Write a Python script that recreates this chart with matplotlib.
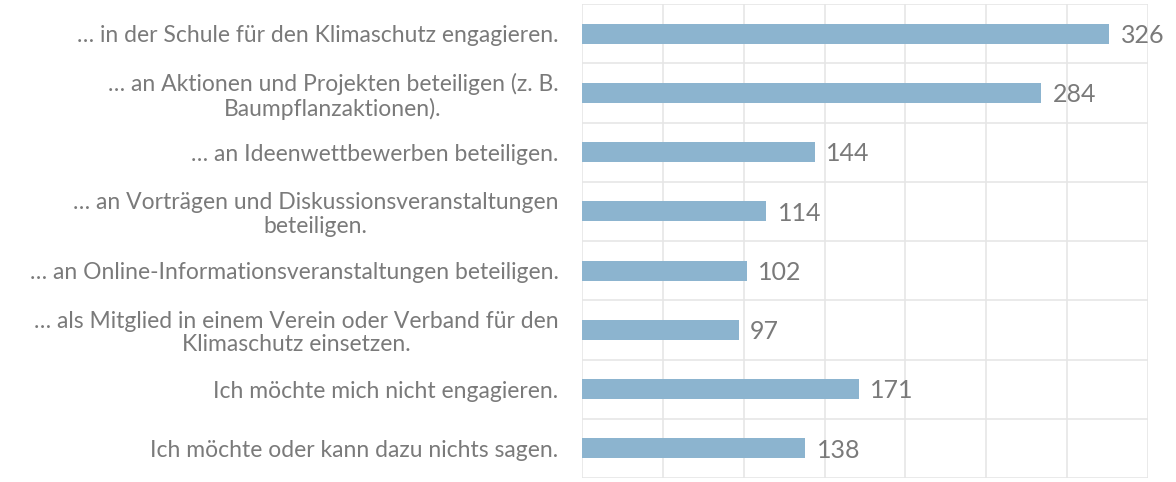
import matplotlib
matplotlib.use("Agg")
import matplotlib.pyplot as plt
import numpy as np

categories = [
    "… in der Schule für den Klimaschutz engagieren.",
    "… an Aktionen und Projekten beteiligen (z. B.\nBaumpflanzaktionen).",
    "… an Ideenwettbewerben beteiligen.",
    "… an Vorträgen und Diskussionsveranstaltungen\nbeteiligen.",
    "… an Online-Informationsveranstaltungen beteiligen.",
    "… als Mitglied in einem Verein oder Verband für den\nKlimaschutz einsetzen.",
    "Ich möchte mich nicht engagieren.",
    "Ich möchte oder kann dazu nichts sagen.",
]
values = [326, 284, 144, 114, 102, 97, 171, 138]

plt.rcParams['font.family'] = ['Lato', 'DejaVu Sans']
text_color = '#7a7a7a'
grid_color = '#e6e6e6'
bar_color = '#8cb4cf'

fig = plt.figure(figsize=(11.76, 4.82), dpi=100)
ax = fig.add_axes([582/1176, 4/482, (1148-582)/1176, (478-4)/482])

y = np.arange(len(categories))
ax.barh(y, values, height=0.34, color=bar_color, zorder=3)
for yi, v in zip(y, values):
    ax.text(v + 7, yi + 0.03, str(v), va='center', ha='left', fontsize=18,
            color=text_color, zorder=4)

ax.set_xlim(0, 350)
ax.set_ylim(len(categories) - 0.5, -0.5)
ax.set_xticks(np.arange(0, 351, 50))
ax.set_xticklabels([])
ax.set_yticks(y)
ax.set_yticklabels(categories, fontsize=16.5, color=text_color, multialignment='center',
                   linespacing=1.15)
ax.set_yticks(np.arange(-0.5, len(categories), 1), minor=True)
ax.tick_params(axis='both', which='both', length=0)
ax.tick_params(axis='y', which='major', pad=17)
ax.grid(True, axis='x', which='major', color=grid_color, linewidth=1.2, zorder=0)
ax.grid(True, axis='y', which='minor', color=grid_color, linewidth=1.2, zorder=0)
for s in ax.spines.values():
    s.set_visible(False)

fig.savefig('out.png', dpi=100)
